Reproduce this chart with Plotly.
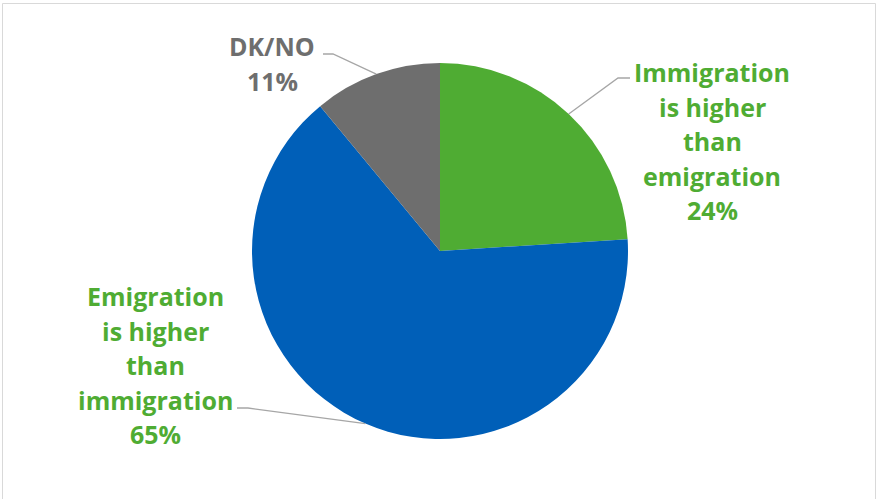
import math
import plotly.graph_objects as go

# ---- data ----
labels = ["Immigration is higher than emigration", "Emigration is higher than immigration", "DK/NO"]
values = [24, 65, 11]
label_lines = [
    ["Immigration", "is higher", "than", "emigration"],
    ["Emigration", "is higher", "than", "immigration"],
    ["DK/NO"],
]
slice_colors = ["#4FAC33", "#005FB8", "#6E6E6E"]
text_colors = ["#4FAC33", "#4FAC33", "#6E6E6E"]

# ---- layout geometry (pixels) ----
W, H = 878, 499
CX, CY, R = 440, 251, 188
# label block: centre x, first line y (px), elbow point near the label
label_pos = [(712, 72), (155, 296), (272, 46)]
elbows = [((618, 78), (630, 78)), ((248, 408), (237, 408)), ((333, 54), (323, 54))]
LINE_H = 34.5
FONT = "Open Sans"
FS = 25


def px(x, y):
    return x / W, 1 - y / H


fig = go.Figure(go.Pie(
    labels=labels, values=values, sort=False, direction="clockwise", rotation=0,
    marker=dict(colors=slice_colors, line=dict(width=0)),
    textinfo="none", hoverinfo="label+percent", showlegend=False,
    domain=dict(x=[(CX - R) / W, (CX + R) / W], y=[1 - (CY + R) / H, 1 - (CY - R) / H]),
))

annotations = []
shapes = []
total = sum(values)
cum = 0
for i, v in enumerate(values):
    mid = (cum + v / 2) / total * 2 * math.pi
    cum += v
    sx, sy = CX + R * math.sin(mid), CY - R * math.cos(mid)
    (ex, ey), (tx, ty) = elbows[i]
    p0, p1, p2 = px(sx, sy), px(ex, ey), px(tx, ty)
    shapes.append(dict(type="path", xref="paper", yref="paper",
                       path=f"M {p0[0]} {p0[1]} L {p1[0]} {p1[1]} L {p2[0]} {p2[1]}",
                       line=dict(color="#A6A6A6", width=1.3)))
    lx, ly = label_pos[i]
    lines = label_lines[i] + [f"{v}%"]
    for j, t in enumerate(lines):
        ax, ay = px(lx, ly + j * LINE_H)
        annotations.append(dict(x=ax, y=ay, xref="paper", yref="paper", text=f"<b>{t}</b>",
                                showarrow=False, xanchor="center", yanchor="middle",
                                font=dict(family=FONT, size=FS, color=text_colors[i])))

# chart border
shapes.append(dict(type="rect", xref="paper", yref="paper", x0=2.5 / W, x1=875.5 / W,
                   y0=-0.05, y1=1 - 3.5 / H, line=dict(color="#D9D9D9", width=1)))

fig.update_layout(width=W, height=H, margin=dict(l=0, r=0, t=0, b=0),
                  paper_bgcolor="white", plot_bgcolor="white",
                  annotations=annotations, shapes=shapes)
fig.write_html("out.html", config={"displayModeBar": False},
               post_script="document.body.style.margin='0';document.body.style.overflow='hidden';")
